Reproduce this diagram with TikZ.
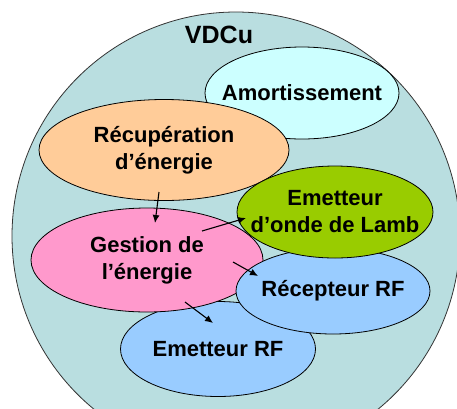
\documentclass[tikz,border=0pt]{standalone}
\usepackage{fontspec}
\setmainfont{Liberation Sans}
\usetikzlibrary{shapes.geometric,arrows.meta}
\definecolor{vdcufill}{RGB}{185,222,224}
\definecolor{amortfill}{RGB}{204,255,255}
\definecolor{recupfill}{RGB}{255,204,153}
\definecolor{lambfill}{RGB}{153,204,0}
\definecolor{gestfill}{RGB}{255,153,204}
\definecolor{rffill}{RGB}{153,204,255}
\tikzset{
  bloc/.style={ellipse, draw=black, line width=0.8pt, inner sep=0pt},
  texte/.style={inner sep=0pt, align=center, font=\fontsize{22}{27}\selectfont\bfseries},
  fleche/.style={-{Latex[length=8pt,width=7pt]}, line width=1.1pt}
}
\begin{document}
\begin{tikzpicture}[x=1pt,y=-1pt]
  \useasboundingbox (0,0) rectangle (457,408);
  \clip (0,0) rectangle (457,408);
  % volume du capteur
  \draw[fill=vdcufill, draw=black!80, line width=0.8pt] (236,236) circle (224pt);
  \node[font=\fontsize{25}{28}\selectfont\bfseries] (vdcu) at (219,35) {VDCu};
  % blocs fonctionnels
  \node[bloc, fill=amortfill, minimum width=194pt, minimum height=92pt,
    label={[texte]center:Amortissement}] (amort) at (302,93) {};
  \node[bloc, fill=recupfill, minimum width=250pt, minimum height=101pt,
    label={[texte]center:{Récupération\\d’énergie}}] (recup) at (164,150) {};
  \node[bloc, fill=rffill, minimum width=195pt, minimum height=95pt,
    label={[texte]center:Emetteur RF}] (emetrf) at (218,349) {};
  \node[bloc, fill=gestfill, minimum width=232pt, minimum height=104pt,
    label={[texte]center:{Gestion de\\l’énergie}}] (gestion) at (147,260) {};
  \node[bloc, fill=rffill, minimum width=194pt, minimum height=86pt,
    label={[texte]center:Récepteur RF}] (recept) at (333,291) {};
  \node[bloc, fill=lambfill, minimum width=196pt, minimum height=92pt,
    label={[texte]center:{Emetteur\\d’onde de Lamb}}] (lamb) at (335,212) {};
  % flux d'energie
  \coordinate (r1) at (159,192);
  \coordinate (g1) at (155,223);
  \coordinate (g2) at (202,231);
  \coordinate (l1) at (246,218);
  \coordinate (g3) at (233,262);
  \coordinate (p1) at (258,276);
  \coordinate (g4) at (185,302);
  \coordinate (e1) at (213,323);
  \draw[fleche] (r1) -- (g1);
  \draw[fleche] (g2) -- (l1);
  \draw[fleche] (g3) -- (p1);
  \draw[fleche] (g4) -- (e1);
\end{tikzpicture}
\end{document}
